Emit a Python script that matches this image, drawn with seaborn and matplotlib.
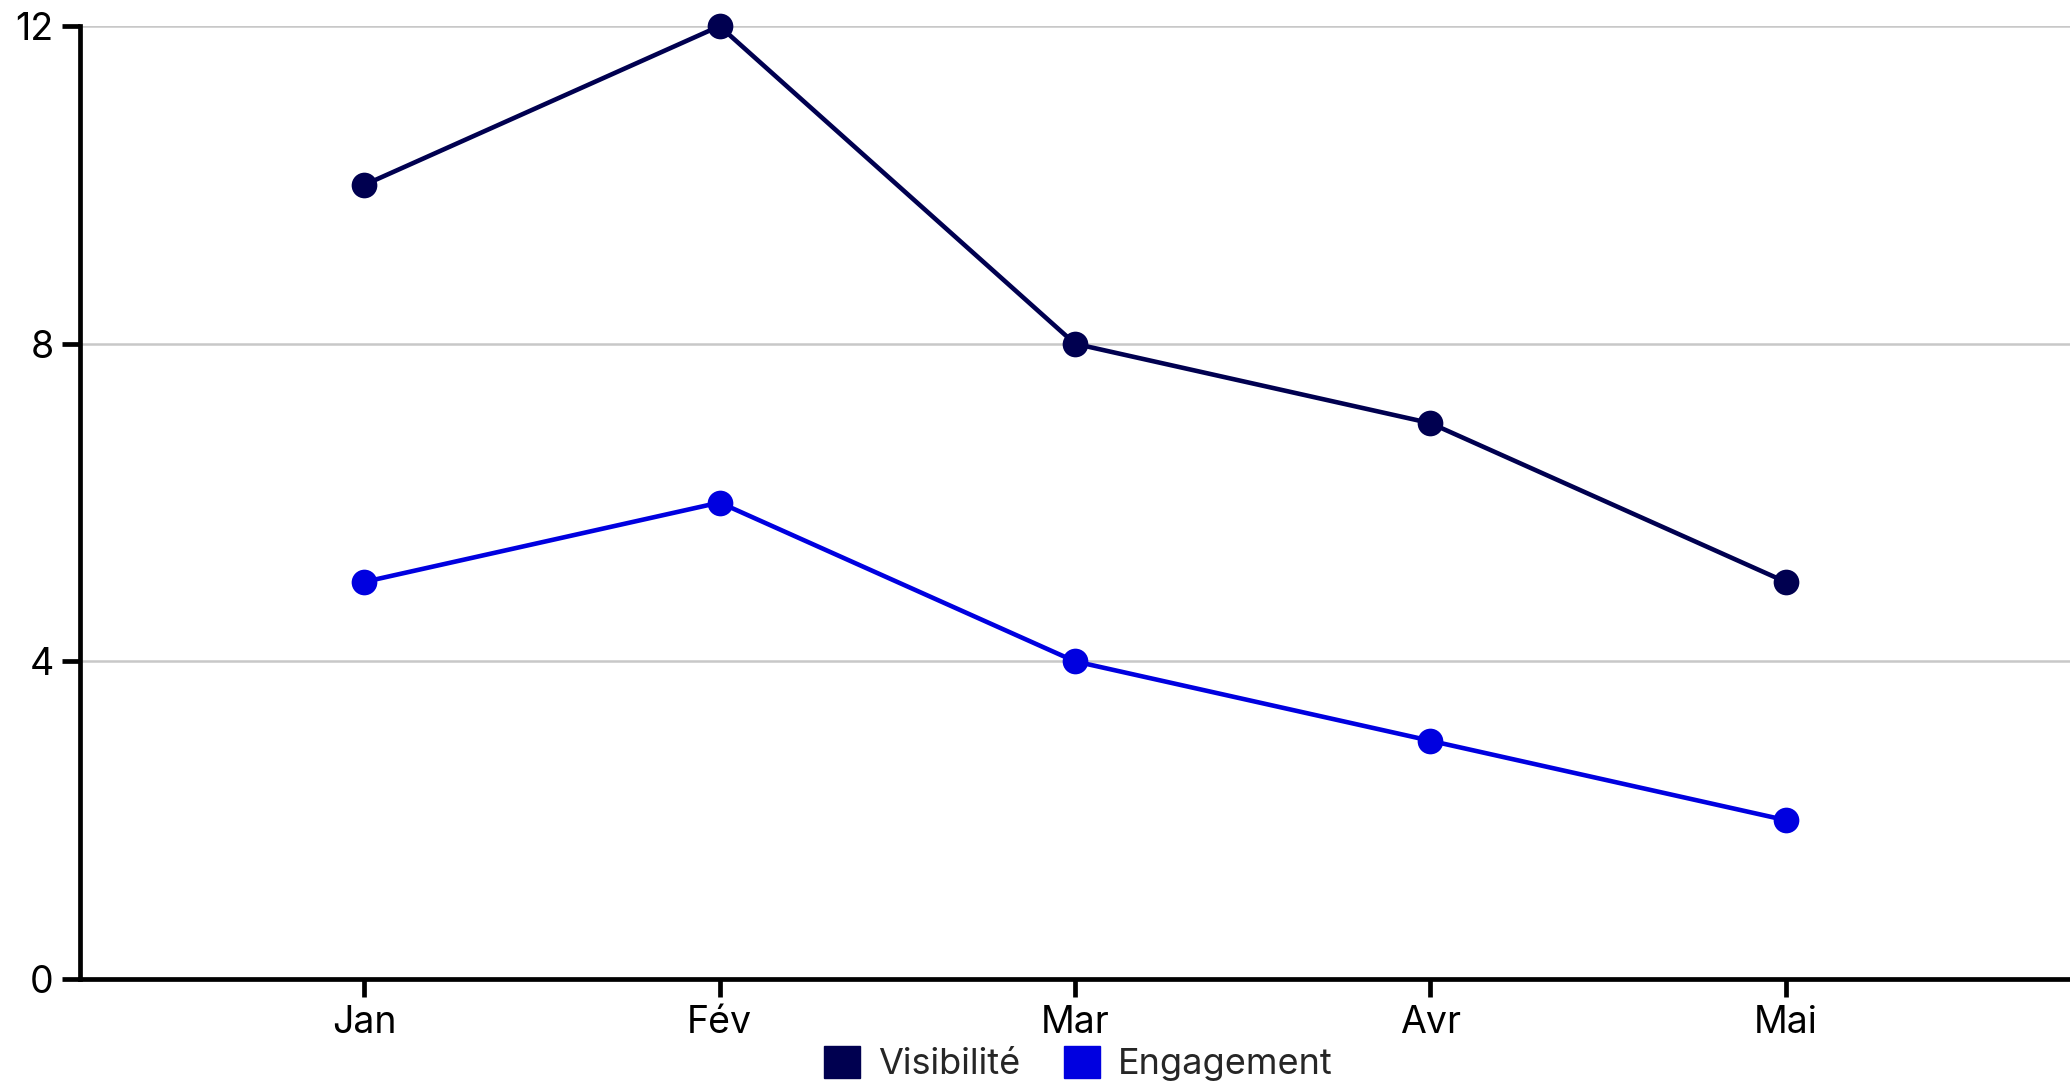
import pandas as pd
import matplotlib
matplotlib.use("Agg")
import matplotlib.pyplot as plt
import seaborn as sns
from matplotlib.patches import Patch

# données
mois = ["Jan", "Fév", "Mar", "Avr", "Mai"]
visibilite = [10, 12, 8, 7, 5]
engagement = [5, 6, 4, 3, 2]
series = ["Visibilité", "Engagement"]
couleurs = ["#000050", "#0000E0"]
y_ticks = [0, 4, 8, 12]

df = pd.DataFrame({
    "Mois": mois * 2,
    "Valeur": visibilite + engagement,
    "Série": [series[0]] * len(mois) + [series[1]] * len(mois),
})
df["pos"] = df["Mois"].map({m: i for i, m in enumerate(mois)})

sns.set_theme(style="white")
plt.rcParams["font.family"] = ["Inter", "DejaVu Sans"]

fig = plt.figure(figsize=(20.7, 10.84), dpi=100)
ax = fig.add_axes([0.0386, 0.0969, 0.9614, 0.879])

ax.yaxis.grid(True, color="#c8c8c8", linewidth=1.8)
ax.set_axisbelow(True)

sns.lineplot(data=df, x="pos", y="Valeur", hue="Série", palette=couleurs,
             hue_order=series, marker="o", markersize=18.5, markeredgewidth=0,
             linewidth=3.3, legend=False, ax=ax, zorder=3, clip_on=False)

ax.set_xlim(-0.8, 4.8)
ax.set_ylim(0, 12)
ax.set_xticks(range(len(mois)))
ax.set_xticklabels(mois)
ax.set_yticks(y_ticks)
ax.set_xlabel("")
ax.set_ylabel("")

for s in ["top", "right"]:
    ax.spines[s].set_visible(False)
for s in ["left", "bottom"]:
    ax.spines[s].set_linewidth(3.4)
    ax.spines[s].set_color("black")
    ax.spines[s].set_zorder(4)

ax.tick_params(axis="both", direction="out", length=13, width=3.4, color="black",
               labelsize=27, labelcolor="black", pad=6, left=True, bottom=True)

handles = [Patch(facecolor=c, edgecolor=c, label=l) for c, l in zip(couleurs, series)]
fig.legend(handles=handles, loc="center", bbox_to_anchor=(0.521, 0.019), ncol=2,
           frameon=False, fontsize=26, handlelength=1.0, handleheight=1.0,
           handletextpad=0.5, columnspacing=1.2)

fig.savefig("out.png", dpi=100)
